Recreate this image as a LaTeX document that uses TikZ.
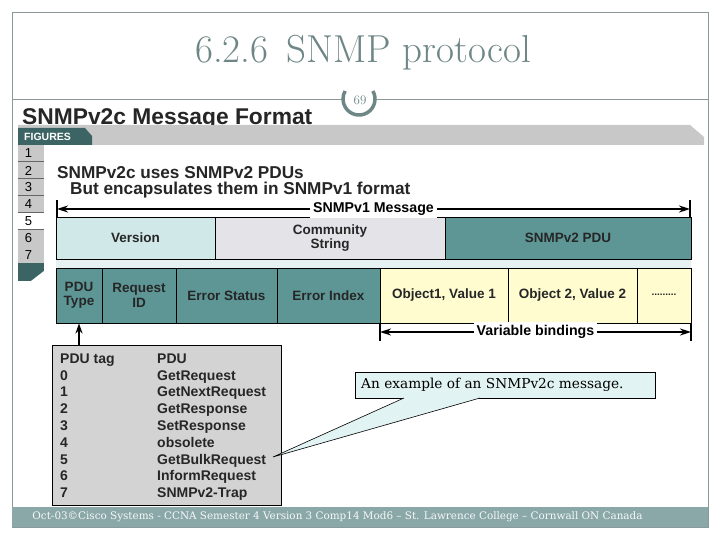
\documentclass[tikz,border=0pt]{standalone}
\usepackage{fontspec}
\setsansfont{Liberation Sans}
\newfontfamily\slabfont{DejaVu Serif}
\usetikzlibrary{arrows.meta}
\newcommand\myfs[1]{\fontsize{#1}{#1}\selectfont}
\definecolor{frameC}{HTML}{8A9A9A}
\definecolor{titleC}{HTML}{6E8686}
\definecolor{tealC}{HTML}{5E9696}
\definecolor{verC}{HTML}{D0E8E8}
\definecolor{comC}{HTML}{E4E4E8}
\definecolor{yelC}{HTML}{FFFDD0}
\definecolor{stripC}{HTML}{E6F2F2}
\definecolor{tabGray}{HTML}{C8C8C8}
\definecolor{tabDark}{HTML}{3C6464}
\definecolor{tblC}{HTML}{D3D3D3}
\definecolor{callC}{HTML}{E2F3F3}
\definecolor{footC}{HTML}{8BA8A8}
\tikzset{
  cell/.style={draw=black, line width=0.9pt, inner sep=0pt, align=center,
    font=\sffamily\bfseries\fontsize{13.5}{14.5}\selectfont, text=black!85},
  dimline/.style={line width=1.8pt, {Stealth[length=11pt,width=7pt]}-{Stealth[length=11pt,width=7pt]}},
  tick/.style={line width=1.8pt},
  dimlabel/.style={fill=white, inner sep=3pt, font=\sffamily\bfseries\myfs{14.2}},
  tbltext/.style={anchor=base west, inner sep=0pt, font=\sffamily\bfseries\myfs{14}, text=black!85},
  tabnum/.style={font=\sffamily\myfs{13}, inner sep=0pt}
}
\begin{document}
\begin{tikzpicture}[x=1pt,y=-1pt]
\useasboundingbox (0,0) rectangle (720,540);
\fill[white] (0,0) rectangle (720,540);
% slide frame
\draw[frameC, line width=0.8pt] (12,12) rectangle (708,527);
% title
\node[text=titleC, font=\myfs{39}] (title) at (363,53) {6.2.6\, SNMP protocol};
% separator line and page number
\draw[frameC, line width=0.8pt] (12,99) -- (342,99);
\draw[frameC, line width=0.8pt] (376,99) -- (708,99);
\draw[titleC, line width=3.5pt] (359,99) ++(-30:16) arc[start angle=-30, end angle=210, radius=16];
\node[text=titleC, font=\myfs{13}] (pnum) at (360,100) {\oldstylenums{69}};
% figure header
\node[anchor=west, font=\sffamily\bfseries\myfs{22.8}, text=black!85, inner sep=0pt] (fighead) at (22,119) {SNMPv2c Message Format};
\fill[tabGray] (18,125) -- (690,125) -- (704,137) -- (704,145) -- (18,145) -- cycle;
\fill[tabDark] (18,128) -- (85,128) -- (92,136) -- (92,145) -- (18,145) -- cycle;
\node[anchor=west, font=\sffamily\bfseries\myfs{10.5}, text=white, inner sep=0pt] (figtab) at (24,136.5) {FIGURES};
% number tabs
\foreach \i in {1,...,7}{
  \pgfmathsetmacro\ytop{145+17*(\i-1)}
  \ifnum\i=5
    \fill[white] (18,\ytop) rectangle (44,\ytop+17);
  \else
    \fill[tabGray] (18,\ytop) rectangle (44,\ytop+17);
  \fi
  \draw[black!60, line width=1pt] (18,\ytop+17) -- (44,\ytop+17);
  \node[tabnum] (tab\i) at (28.5,\ytop+8.5) {\i};
}
\fill[tabDark] (18,263) rectangle (44,281);
\fill[white] (31,281) -- (44,271) -- (44,281) -- cycle;
% statements
\node[anchor=west, font=\sffamily\bfseries\myfs{17.2}, text=black!85, inner sep=0pt] (l1) at (57,173) {SNMPv2c uses SNMPv2 PDUs};
\node[anchor=west, font=\sffamily\bfseries\myfs{17.2}, text=black!85, inner sep=0pt] (l2) at (70,190) {But encapsulates them in SNMPv1 format};
% row 1
\fill[stripC] (56,259) rectangle (691,268);
\node[cell, fill=verC, minimum width=159pt, minimum height=42pt] (version) at (135.5,238) {Version};
\node[cell, fill=comC, minimum width=230pt, minimum height=42pt] (community) at (330,238) {Community\\String};
\node[cell, fill=tealC, minimum width=246pt, minimum height=42pt] (pdu) at (568,238) {SNMPv2 PDU};
% row 2
\node[cell, fill=tealC, minimum width=46pt, minimum height=55pt] (pdutype) at (79,295.5) {PDU\\Type};
\node[cell, fill=tealC, minimum width=74pt, minimum height=55pt] (reqid) at (139,295.5) {Request\\ID};
\node[cell, fill=tealC, minimum width=101pt, minimum height=55pt] (errstat) at (226.5,295.5) {Error Status};
\node[cell, fill=tealC, minimum width=103pt, minimum height=55pt] (erridx) at (328.5,295.5) {Error Index};
\node[cell, fill=yelC, minimum width=128pt, minimum height=55pt] (obj1) at (444,295.5) {Object1, Value 1};
\node[cell, fill=yelC, minimum width=129pt, minimum height=55pt] (obj2) at (572.5,295.5) {Object 2, Value 2};
\node[cell, fill=yelC, minimum width=54pt, minimum height=55pt, font=\sffamily\bfseries\myfs{10}] (dots) at (664,295.5) {\raisebox{1pt}{.........}};
% SNMPv1 message dimension
\coordinate (m1l) at (57,209);
\coordinate (m1r) at (690,209);
\draw[tick] (57,200) -- (57,217);
\draw[tick] (690,200) -- (690,218);
\draw[dimline] (m1l) -- node[dimlabel] (m1lab) {SNMPv1 Message} (m1r);
% variable bindings dimension
\coordinate (vbl) at (380,332);
\coordinate (vbr) at (691,332);
\draw[tick] (380,323) -- (380,341);
\draw[tick] (691,323) -- (691,341);
\draw[dimline] (vbl) -- node[dimlabel] (vblab) {Variable bindings} (vbr);
% PDU tag table
\node[draw=black, line width=1pt, fill=tblC, minimum width=229pt, minimum height=160pt, inner sep=0pt] (tagtbl) at (166.5,425) {};
\draw[line width=1.8pt, -{Stealth[length=10pt,width=7pt]}] (tagtbl.north -| pdutype.south) -- (pdutype.south);
\node[tbltext] (h1) at (60,363) {PDU tag};
\node[tbltext] (h2) at (157,363) {PDU};
\foreach \t [count=\i from 0] in {GetRequest,GetNextRequest,GetResponse,SetResponse,obsolete,GetBulkRequest,InformRequest,SNMPv2-Trap}{
  \node[tbltext] (tag\i) at (60,380+16.8*\i) {\i};
  \node[tbltext] (name\i) at (157,380+16.8*\i) {\t};
}
% callout
\coordinate (tip) at (273,457);
\node[draw=black, line width=0.7pt, fill=callC, minimum width=300pt, minimum height=26pt, inner sep=0pt] (callout) at (505,385) {};
\filldraw[fill=callC, draw=black, line width=0.6pt] (404,398) -- (tip) -- (480,398);
\fill[callC] (405,397.6) -- (479,397.6) -- (470,392) -- (410,392) -- cycle;
\node[anchor=west, inner sep=0pt, font=\slabfont\myfs{13.7}] (calltext) at (361,385) {An example of an SNMPv2c message.};
% footer
\fill[footC] (12,507) rectangle (708,527);
\node[text=white!92!footC, font=\slabfont\myfs{10.4}, inner sep=0pt] (foot) at (337.5,517) {Oct-03©Cisco Systems - CCNA Semester 4 Version 3 Comp14 Mod6 – St. Lawrence College – Cornwall ON Canada};
\end{tikzpicture}
\end{document}
